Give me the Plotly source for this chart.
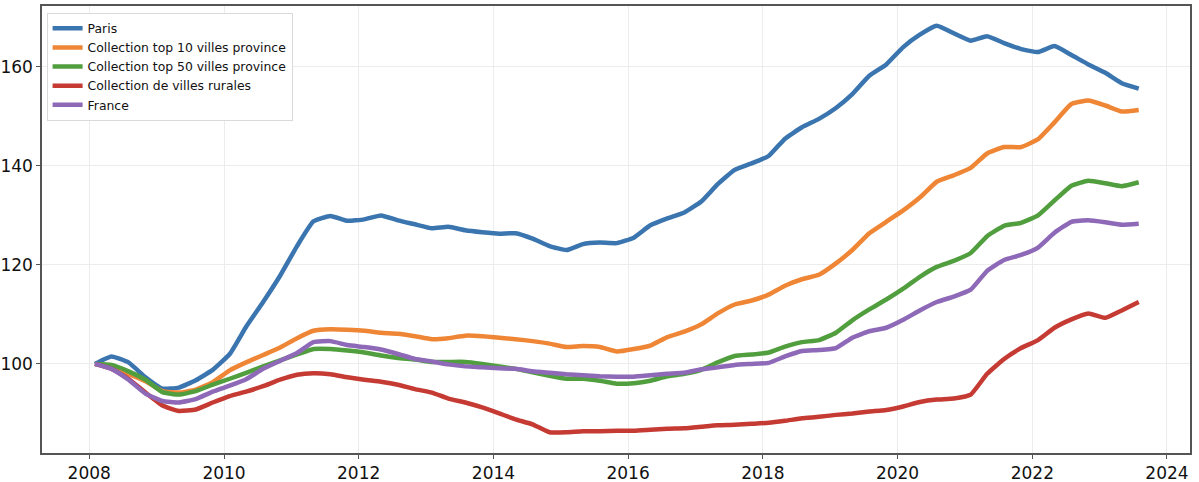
import pandas as pd
import plotly.graph_objects as go

dates = pd.date_range("2008-02-01", "2023-08-01", freq="3MS")

paris = [100, 101.5, 100.3, 97.3, 95.0, 95.2, 96.7, 98.8, 102.0, 107.5,
         112.5, 117.8, 123.8, 128.8, 129.9, 128.9, 129.2, 130.0, 129.0, 128.2,
         127.4, 127.7, 127.0, 126.6, 126.3, 126.4, 125.3, 123.8, 123.0, 124.2,
         124.5, 124.4, 125.5, 128.0, 129.4, 130.6, 132.8, 136.3, 139.2, 140.5,
         142.0, 145.5, 147.8, 149.5, 151.7, 154.5, 158.2, 160.5, 164.0, 166.5,
         168.3, 166.8, 165.3, 166.2, 164.8, 163.6, 163.0, 164.2, 162.4, 160.5,
         158.8, 156.7, 155.6]

top10 = [100, 99.3, 98.0, 96.5, 94.5, 94.2, 94.8, 96.3, 98.7, 100.3,
         101.8, 103.3, 105.2, 106.7, 107.0, 106.9, 106.7, 106.3, 106.1, 105.6,
         105.0, 105.2, 105.7, 105.6, 105.3, 105.0, 104.6, 104.1, 103.4, 103.6,
         103.4, 102.5, 103.0, 103.7, 105.4, 106.5, 108.0, 110.2, 112.0, 112.8,
         114.0, 115.8, 117.1, 118.0, 120.3, 123.0, 126.4, 128.7, 131.0, 133.6,
         136.8, 138.1, 139.6, 142.5, 143.8, 143.8, 145.4, 148.8, 152.5, 153.2,
         152.2, 151.0, 151.3]

top50 = [100, 99.8, 98.5, 96.8, 94.3, 93.8, 94.5, 95.8, 97.0, 98.2,
         99.5, 100.7, 101.9, 103.0, 103.0, 102.7, 102.3, 101.7, 101.2, 100.9,
         100.4, 100.4, 100.4, 100.0, 99.5, 99.0, 98.3, 97.6, 97.0, 97.0,
         96.6, 96.0, 96.1, 96.6, 97.5, 98.0, 98.8, 100.3, 101.6, 101.9,
         102.3, 103.5, 104.4, 104.8, 106.3, 108.8, 111.0, 113.0, 115.2, 117.6,
         119.6, 120.8, 122.4, 125.8, 127.9, 128.5, 130.0, 133.0, 136.0, 137.0,
         136.5, 135.9, 136.7]

rurales = [100, 99.0, 97.0, 94.2, 91.6, 90.5, 90.8, 92.2, 93.5, 94.4,
           95.5, 96.8, 97.8, 98.1, 97.9, 97.3, 96.8, 96.4, 95.8, 94.9,
           94.2, 93.0, 92.2, 91.2, 90.0, 88.8, 87.8, 86.2, 86.2, 86.4,
           86.4, 86.5, 86.5, 86.7, 86.9, 87.0, 87.3, 87.6, 87.7, 87.9,
           88.1, 88.5, 89.0, 89.3, 89.7, 90.0, 90.4, 90.7, 91.4, 92.3,
           92.8, 93.0, 93.8, 98.0, 101.0, 103.2, 104.8, 107.3, 109.0, 110.2,
           109.3, 110.8, 112.5]

france = [100, 99.0, 96.8, 94.0, 92.5, 92.2, 92.9, 94.4, 95.6, 96.9,
          99.0, 100.6, 102.2, 104.4, 104.6, 103.8, 103.4, 102.9, 102.0, 101.0,
          100.5, 99.9, 99.5, 99.3, 99.1, 99.0, 98.5, 98.2, 97.9, 97.7,
          97.5, 97.4, 97.4, 97.7, 98.0, 98.2, 98.9, 99.3, 99.8, 100.0,
          100.2, 101.5, 102.6, 102.8, 103.2, 105.3, 106.6, 107.3, 108.9, 110.8,
          112.5, 113.6, 115.0, 118.8, 121.0, 122.0, 123.5, 126.5, 128.7, 129.0,
          128.6, 128.1, 128.3]

series_names = ["Paris", "Collection top 10 villes province",
                "Collection top 50 villes province", "Collection de villes rurales",
                "France"]
series_values = [paris, top10, top50, rurales, france]
colors = ["#3b75af", "#ef8636", "#519e3e", "#c53a32", "#8d69b8"]

fig = go.Figure()
for name, vals, col in zip(series_names, series_values, colors):
    fig.add_trace(go.Scatter(x=dates, y=vals, mode="lines", name=name,
                             line=dict(color=col, width=4.5, shape="spline", smoothing=0.4)))

fig.update_layout(
    width=1199, height=482,
    margin=dict(l=42, r=9, t=6, b=29),
    paper_bgcolor="white", plot_bgcolor="white",
    font=dict(family="DejaVu Sans", color="#222"),
    legend=dict(x=0.004, y=0.985, xanchor="left", yanchor="top",
                bgcolor="white", bordercolor="#d9d9d9", borderwidth=1,
                font=dict(size=12.4, color="#111"), tracegroupgap=0, itemwidth=30),
    showlegend=True,
)
fig.update_xaxes(
    type="date", range=["2007-04-20", "2024-05-05"], automargin=False,
    tick0="2008-01-01", dtick="M24", tickformat="%Y",
    showgrid=True, gridcolor="#ececec", gridwidth=1,
    showline=True, linecolor="#555", linewidth=1.5, mirror=True,
    ticks="outside", ticklen=4, tickcolor="#555",
    tickfont=dict(size=17, color="#111"), zeroline=False,
)
fig.update_yaxes(
    range=[82.0, 172.3], tickvals=[100, 120, 140, 160], automargin=False,
    showgrid=True, gridcolor="#ececec", gridwidth=1,
    showline=True, linecolor="#555", linewidth=1.5, mirror=True,
    ticks="outside", ticklen=4, tickcolor="#555",
    tickfont=dict(size=17, color="#111"), zeroline=False,
)

fig.write_html("out.html", config={"displayModeBar": False},
               post_script="document.body.style.margin='0';document.body.style.padding='0';")
